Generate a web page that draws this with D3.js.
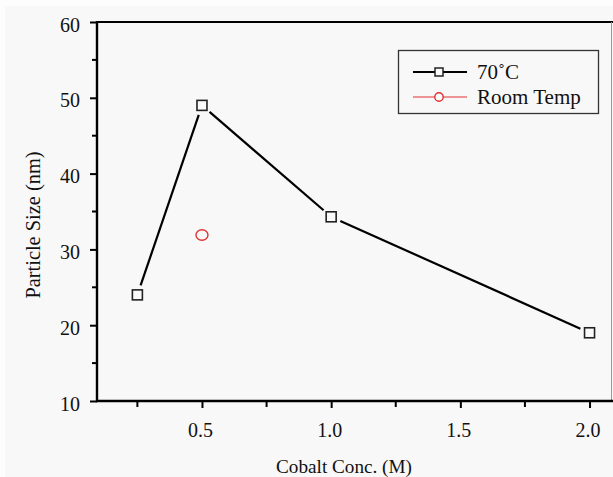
<!DOCTYPE html>
<html>
<head>
<meta charset="utf-8">
<script src="https://cdn.jsdelivr.net/npm/d3@7"></script>
<style>
  html, body { margin: 0; padding: 0; background: #fdfdfd; }
  svg { display: block; }
  text { font-family: "Liberation Serif", "Times New Roman", serif; fill: #111; }
</style>
</head>
<body>
<svg id="chart" width="613" height="477"></svg>
<script>
// Particle size vs cobalt concentration
const concentrations = [0.25, 0.5, 1.0, 2.0];
const size70C = [24.0, 49.0, 34.3, 19.0];
const roomTempConc = [0.5];
const sizeRoomTemp = [31.9];
const seriesNames = ["70\u02DAC", "Room Temp"];
const xTickValues = [0.5, 1.0, 1.5, 2.0];
const xMinorValues = [0.25, 0.75, 1.25, 1.75];
const yTickValues = [10, 20, 30, 40, 50, 60];
const yMinorValues = [15, 25, 35, 45, 55];

const svg = d3.select("#chart");
const W = 613, H = 477;
const plot = { left: 97, top: 22, right: 611.5, bottom: 401 };

// page backdrop
svg.append("rect").attr("x", 5).attr("y", 6).attr("width", W - 5).attr("height", H - 6)
  .attr("fill", "#f8f8f8");

const x = d3.scaleLinear().domain([0.0937, 2.085]).range([plot.left, plot.right]);
const y = d3.scaleLinear().domain([10, 60]).range([plot.bottom, plot.top]);

// frame: top line and faint right edge
svg.append("line").attr("x1", plot.left).attr("x2", W).attr("y1", plot.top).attr("y2", plot.top)
  .attr("stroke", "#000").attr("stroke-width", 2.2);
svg.append("line").attr("x1", plot.right).attr("x2", plot.right).attr("y1", plot.top).attr("y2", plot.bottom)
  .attr("stroke", "#999").attr("stroke-width", 1);

// x axis
const xAxis = svg.append("g").attr("transform", `translate(0,${plot.bottom})`)
  .call(d3.axisBottom(x).tickValues(xTickValues).tickFormat(d3.format(".1f")).tickSize(7).tickSizeOuter(0));
xAxis.select(".domain").remove();
xAxis.selectAll(".tick line").attr("stroke", "#000").attr("stroke-width", 2);
xAxis.selectAll(".tick text").attr("font-size", 20).attr("dy", null).attr("y", 36).attr("x", -2);
xAxis.append("g").selectAll("line").data(xMinorValues).join("line")
  .attr("x1", d => x(d)).attr("x2", d => x(d)).attr("y1", 0).attr("y2", 6)
  .attr("stroke", "#000").attr("stroke-width", 2);
svg.append("line").attr("x1", plot.left - 1).attr("x2", W).attr("y1", plot.bottom).attr("y2", plot.bottom)
  .attr("stroke", "#000").attr("stroke-width", 2.4);

// y axis
const yAxis = svg.append("g").attr("transform", `translate(${plot.left},0)`)
  .call(d3.axisLeft(y).tickValues(yTickValues).tickFormat(d3.format("d")).tickSize(7).tickSizeOuter(0));
yAxis.select(".domain").remove();
yAxis.selectAll(".tick line").attr("stroke", "#000").attr("stroke-width", 2);
yAxis.selectAll(".tick text").attr("font-size", 20).attr("x", -17).attr("dy", "0.45em");
yAxis.append("g").selectAll("line").data(yMinorValues).join("line")
  .attr("x1", 0).attr("x2", -5).attr("y1", d => y(d)).attr("y2", d => y(d))
  .attr("stroke", "#000").attr("stroke-width", 2);
svg.append("line").attr("x1", plot.left).attr("x2", plot.left).attr("y1", plot.top - 1).attr("y2", plot.bottom + 1)
  .attr("stroke", "#000").attr("stroke-width", 2.4);

// axis titles
svg.append("text").attr("x", 344).attr("y", 473).attr("text-anchor", "middle")
  .attr("font-size", 19.2).text("Cobalt Conc. (M)");
svg.append("text").attr("transform", "translate(40,225) rotate(-90)")
  .attr("text-anchor", "middle").attr("font-size", 20.4).text("Particle Size (nm)");

// 70°C series: segments stop short of the markers
const pts = concentrations.map((c, i) => [x(c), y(size70C[i])]);
const gap = 10;
const segs = d3.pairs(pts).map(([a, b]) => {
  const dx = b[0] - a[0], dy = b[1] - a[1], len = Math.hypot(dx, dy);
  const ux = dx / len, uy = dy / len;
  return [a[0] + ux * gap, a[1] + uy * gap, b[0] - ux * gap, b[1] - uy * gap];
});
svg.append("g").selectAll("line").data(segs).join("line")
  .attr("x1", d => d[0]).attr("y1", d => d[1]).attr("x2", d => d[2]).attr("y2", d => d[3])
  .attr("stroke", "#000").attr("stroke-width", 2.2);
const sq = 10;
svg.append("g").selectAll("rect").data(concentrations).join("rect")
  .attr("x", (d, i) => x(d) - sq / 2).attr("y", (d, i) => y(size70C[i]) - sq / 2)
  .attr("width", sq).attr("height", sq)
  .attr("fill", "#fafafa").attr("stroke", "#222").attr("stroke-width", 1.6);

// Room temperature point
svg.append("g").selectAll("ellipse").data(roomTempConc).join("ellipse")
  .attr("cx", d => x(d)).attr("cy", (d, i) => y(sizeRoomTemp[i]))
  .attr("rx", 6).attr("ry", 5.3)
  .attr("fill", "none").attr("stroke", "#e03030").attr("stroke-width", 1.4);

// legend
const lg = svg.append("g");
lg.append("rect").attr("x", 398.5).attr("y", 50.5).attr("width", 200).attr("height", 63)
  .attr("fill", "#f8f8f8").attr("stroke", "#333").attr("stroke-width", 1.3);
lg.append("line").attr("x1", 413).attr("x2", 467).attr("y1", 72).attr("y2", 72)
  .attr("stroke", "#000").attr("stroke-width", 2.2);
lg.append("rect").attr("x", 435).attr("y", 68).attr("width", 8).attr("height", 8)
  .attr("fill", "#fafafa").attr("stroke", "#222").attr("stroke-width", 1.5);
lg.append("line").attr("x1", 413).attr("x2", 467).attr("y1", 97).attr("y2", 97)
  .attr("stroke", "#e03030").attr("stroke-width", 1.2);
lg.append("circle").attr("cx", 439).attr("cy", 97).attr("r", 4.2)
  .attr("fill", "#fafafa").attr("stroke", "#e03030").attr("stroke-width", 1.4);
lg.selectAll("text.lab").data(seriesNames).join("text").attr("class", "lab")
  .attr("x", 477).attr("y", (d, i) => 79 + i * 25).attr("font-size", 21).text(d => d);
</script>
</body>
</html>
